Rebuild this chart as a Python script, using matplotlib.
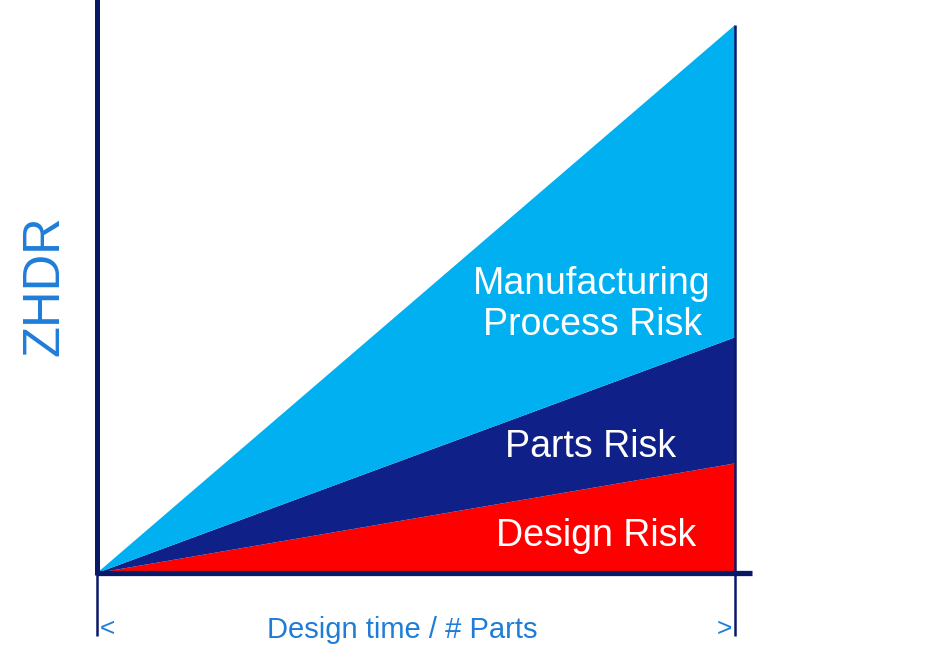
import matplotlib
matplotlib.use("Agg")
import matplotlib.pyplot as plt

plt.rcParams['font.family'] = ['Liberation Sans', 'DejaVu Sans']

# data: risk share at start and end of design time (stacked)
x = [0, 1]
design_risk = [0, 0.20]
parts_risk = [0, 0.23]
manufacturing_risk = [0, 0.57]
labels = ['Design Risk', 'Parts Risk', 'Manufacturing\nProcess Risk']
colors = ['#FF0000', '#0F2189', '#00B0F0']

navy = '#0A1868'
blue_txt = '#1F7DD8'

fig = plt.figure(figsize=(9.36, 6.63), dpi=100)
ax = fig.add_axes([97 / 936, 90 / 663, 638 / 936, 548 / 663])
ax.stackplot(x, design_risk, parts_risk, manufacturing_risk,
             colors=colors, linewidth=0)
ax.set_xlim(0, 1)
ax.set_ylim(0, 1)
ax.axis('off')

# axes lines
ax.plot([0, 0], [-0.004, 1.05], color=navy, lw=3.6, clip_on=False,
        solid_capstyle='butt')
ax.plot([0, 1.027], [0, 0], color=navy, lw=3.8, clip_on=False,
        solid_capstyle='butt')
ax.plot([0, 0], [0, -0.115], color=navy, lw=1.8, clip_on=False,
        solid_capstyle='butt')
ax.plot([1, 1], [1, -0.115], color=navy, lw=1.8, clip_on=False,
        solid_capstyle='butt')

# region labels
ax.text(0.776, 0.49, labels[2], color='white', fontsize=27,
        ha='center', va='center', linespacing=1.2)
ax.text(0.774, 0.23, labels[1], color='white', fontsize=27,
        ha='center', va='center')
ax.text(0.783, 0.068, labels[0], color='white', fontsize=27,
        ha='center', va='center')

# axis labels
ax.text(0.478, -0.104, 'Design time / # Parts', color=blue_txt, fontsize=21,
        ha='center', va='center')
ax.text(0.004, -0.103, '<', color=blue_txt, fontsize=19, ha='left',
        va='center')
ax.text(0.995, -0.103, '>', color=blue_txt, fontsize=19, ha='right',
        va='center')
ax.text(-0.082, 0.525, 'ZHDR', color=blue_txt, fontsize=36.5, rotation=90,
        ha='center', va='center')

fig.savefig('out.png', dpi=100)
